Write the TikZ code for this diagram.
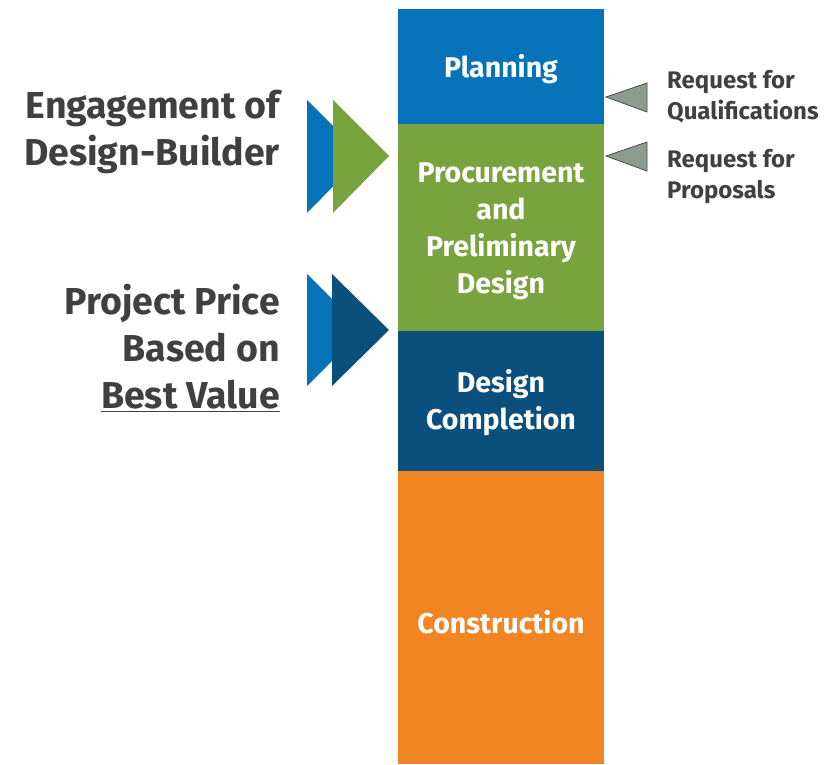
\documentclass[tikz,border=0pt]{standalone}
\usepackage{fontspec}
\setmainfont{Fira Sans}
\usetikzlibrary{positioning}
\definecolor{cblue}{HTML}{0672B8}
\definecolor{cgreen}{HTML}{78A33F}
\definecolor{cdark}{HTML}{0B4F7C}
\definecolor{corange}{HTML}{F28523}
\definecolor{cgrey}{HTML}{8C9C8E}
\definecolor{ctext}{HTML}{404040}
\tikzset{
  phase/.style={inner sep=0pt, text=white, align=center, font=\bfseries\fontsize{28.5}{37}\selectfont},
  lefttext/.style={inner sep=0pt, text=ctext, align=right, anchor=east, font=\bfseries\fontsize{37.5}{47}\selectfont},
  righttext/.style={inner sep=0pt, text=ctext, align=left, anchor=west, font=\bfseries\fontsize{24}{31}\selectfont},
  greyarrow/.style={fill=cgrey, draw=black!70, line width=0.8pt, line join=miter}
}
\begin{document}
\begin{tikzpicture}[x=1pt,y=-1pt]
\useasboundingbox (0,0) rectangle (830,765);
% column
\fill[cblue] (398,9) rectangle (604,124);
\fill[cgreen] (398,124) rectangle (604,331);
\fill[cdark] (398,331) rectangle (604,471);
\fill[corange] (398,471) rectangle (604,764);
\node[phase] (plan) at (501,69) {Planning};
\node[phase] (proc) at (501,231) {Procurement\\and\\Preliminary\\Design};
\node[phase] (desc) at (501,403) {Design\\Completion};
\node[phase] (cons) at (501,622) {Construction};
% left arrows
\fill[cblue] (307,100) -- (363,156) -- (307,213) -- cycle;
\fill[cgreen] (333,100) -- (389,156) -- (333,213) -- cycle;
\fill[cblue] (307,274) -- (363,330) -- (307,386) -- cycle;
\fill[cdark] (332,274) -- (389,330) -- (332,386) -- cycle;
% left texts
\node[lefttext] (eng) at (280,132) {Engagement of\\Design-Builder};
\node[lefttext] (price) at (280,348) {Project Price\\Based on\\\underline{Best Value}};
% right grey arrows
\draw[greyarrow] (606,97) -- (647,83) -- (647,112) -- cycle;
\draw[greyarrow] (606,156) -- (647,142) -- (647,171) -- cycle;
\node[righttext] (rfq) at (667,97) {Request for\\Qualifications};
\node[righttext] (rfp) at (667,177) {Request for\\Proposals};
\end{tikzpicture}
\end{document}
